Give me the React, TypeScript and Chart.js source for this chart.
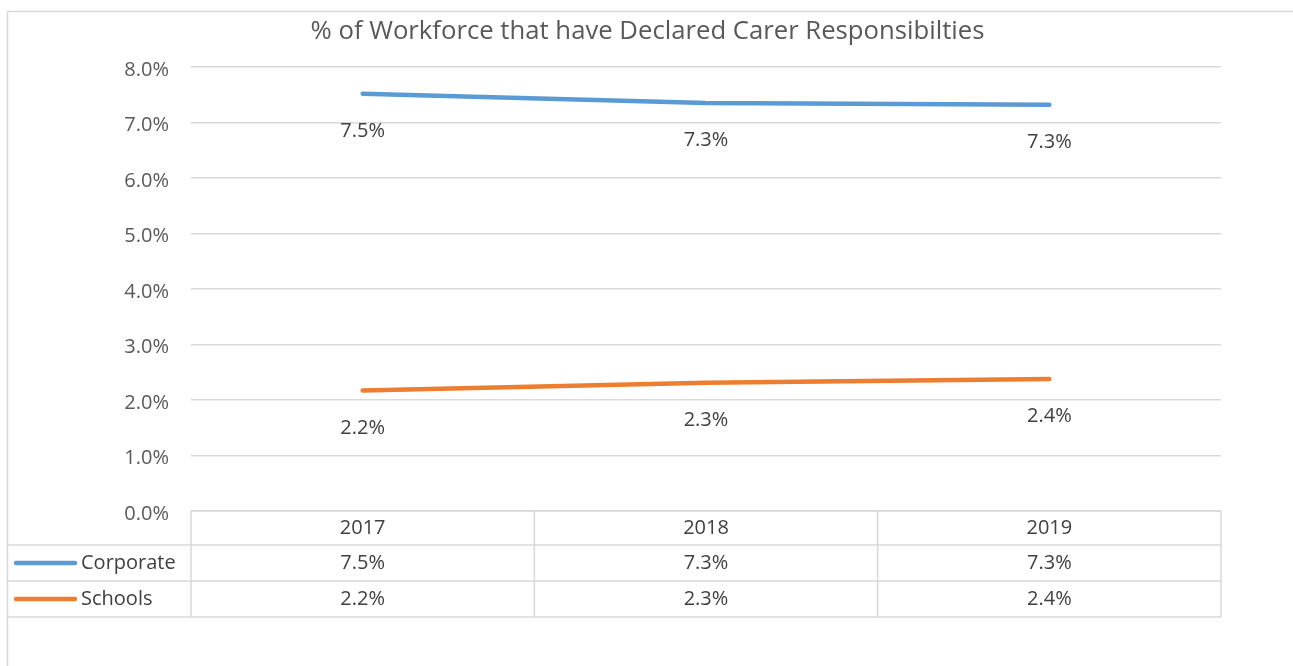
import React, { useEffect, useRef } from "react";
import { Chart, registerables } from "chart.js";

Chart.register(...registerables);

const TITLE = "% of Workforce that have Declared Carer Responsibilties";
const categories = ["2017", "2018", "2019"];
const corporate = [7.52, 7.35, 7.32];
const schools = [2.17, 2.31, 2.38];
const corporateLabels = ["7.5%", "7.3%", "7.3%"];
const schoolsLabels = ["2.2%", "2.3%", "2.4%"];
const seriesNames = ["Corporate", "Schools"];
const yTicks = [0, 1, 2, 3, 4, 5, 6, 7, 8];

const BLUE = "#5B9BD5";
const ORANGE = "#ED7D31";
const GRID = "#D9D9D9";
const FONT = "'Open Sans', sans-serif";

const tablePlugin = {
  id: "excelTable",
  afterDraw(chart: any) {
    const ctx = chart.ctx;
    const area = chart.chartArea;
    const x = chart.scales.x;
    const y = chart.scales.y;
    ctx.save();

    // outer frame
    ctx.strokeStyle = GRID;
    ctx.lineWidth = 1.5;
    ctx.strokeRect(7.5, 11.5, 1400, 800);

    // title
    ctx.fillStyle = "#595959";
    ctx.font = `25.7px ${FONT}`;
    ctx.textAlign = "center";
    ctx.textBaseline = "middle";
    ctx.fillText(TITLE, chart.width / 2 + 1, 32);

    // data labels
    ctx.font = `20px ${FONT}`;
    ctx.fillStyle = "#404040";
    const sets = [corporateLabels, schoolsLabels];
    chart.data.datasets.forEach((ds: any, di: number) => {
      ds.data.forEach((v: number, i: number) => {
        const px = x.getPixelForValue(i);
        const py = y.getPixelForValue(v);
        ctx.fillText(sets[di][i], px, py + 37.5);
      });
    });

    // data table
    const top = area.bottom;
    const rowH = [34, 36, 36];
    const rows = [top, top + rowH[0], top + rowH[0] + rowH[1], top + rowH[0] + rowH[1] + rowH[2]];
    const colW = (area.right - area.left) / categories.length;
    ctx.strokeStyle = GRID;
    ctx.lineWidth = 1.5;
    ctx.beginPath();
    ctx.moveTo(area.left, rows[0]);
    ctx.lineTo(area.right, rows[0]);
    for (let r = 1; r < rows.length; r++) {
      ctx.moveTo(7.5, rows[r]);
      ctx.lineTo(area.right, rows[r]);
    }
    for (let c = 0; c <= categories.length; c++) {
      const cx = area.left + c * colW;
      ctx.moveTo(cx, rows[0]);
      ctx.lineTo(cx, rows[3]);
    }
    ctx.stroke();

    ctx.fillStyle = "#404040";
    ctx.font = `20px ${FONT}`;
    ctx.textAlign = "center";
    ctx.textBaseline = "middle";
    categories.forEach((c, i) => {
      const cx = x.getPixelForValue(i);
      ctx.fillText(c, cx, (rows[0] + rows[1]) / 2);
      ctx.fillText(corporateLabels[i], cx, (rows[1] + rows[2]) / 2);
      ctx.fillText(schoolsLabels[i], cx, (rows[2] + rows[3]) / 2);
    });

    // legend keys
    const colors = [BLUE, ORANGE];
    seriesNames.forEach((n, i) => {
      const cy = (rows[i + 1] + rows[i + 2]) / 2;
      ctx.strokeStyle = colors[i];
      ctx.lineWidth = 4.5;
      ctx.lineCap = "round";
      ctx.beginPath();
      ctx.moveTo(16, cy);
      ctx.lineTo(75, cy);
      ctx.stroke();
      ctx.fillStyle = "#404040";
      ctx.textAlign = "left";
      ctx.fillText(n, 81, cy);
    });

    ctx.restore();
  },
};

export default function App() {
  const ref = useRef<HTMLCanvasElement>(null);
  useEffect(() => {
    const chart = new Chart(ref.current!, {
      type: "line",
      data: {
        labels: categories,
        datasets: [
          {
            label: seriesNames[0],
            data: corporate,
            borderColor: BLUE,
            backgroundColor: BLUE,
            borderWidth: 4.5,
            borderCapStyle: "round",
            pointRadius: 0,
            tension: 0,
          },
          {
            label: seriesNames[1],
            data: schools,
            borderColor: ORANGE,
            backgroundColor: ORANGE,
            borderWidth: 4.5,
            borderCapStyle: "round",
            pointRadius: 0,
            tension: 0,
          },
        ],
      },
      options: {
        animation: false,
        responsive: false,
        layout: { padding: { left: 0, top: 67, right: 72, bottom: 155 } },
        plugins: {
          legend: { display: false },
          title: { display: false },
          tooltip: { enabled: false },
        },
        scales: {
          x: {
            type: "category",
            display: false,
            offset: true,
          },
          y: {
            min: 0,
            max: 8,
            afterFit: (s: any) => {
              s.width = 191;
            },
            afterBuildTicks: (s: any) => {
              s.ticks = yTicks.map((v) => ({ value: v }));
            },
            border: { display: false },
            grid: { color: GRID, lineWidth: 1.5, drawTicks: false },
            ticks: {
              padding: 22,
              labelOffset: 3,
              color: "#595959",
              font: { family: "'Open Sans', sans-serif", size: 20 },
              callback: (v: any) => Number(v).toFixed(1) + "%",
            },
          },
        },
      },
      plugins: [tablePlugin],
    });
    return () => chart.destroy();
  }, []);
  return (
    <div style={{ position: "absolute", left: 0, top: 0, width: 1293, height: 666, background: "#fff" }}>
      <canvas ref={ref} width={1293} height={666} />
    </div>
  );
}
